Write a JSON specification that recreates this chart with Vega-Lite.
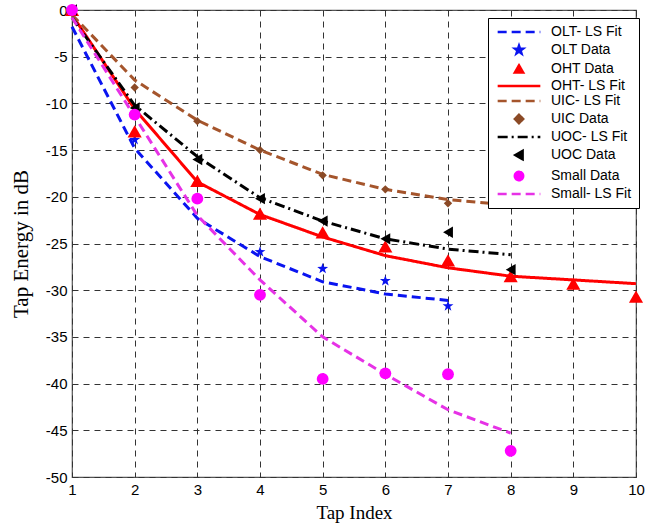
{
  "$schema": "https://vega.github.io/schema/vega-lite/v6.json",
  "autosize": {"type": "none"},
  "width": 564,
  "height": 467,
  "padding": {"left": 72, "top": 10, "right": 24, "bottom": 52},
  "background": "white",
  "config": {
    "view": {"stroke": "#555", "strokeWidth": 1.2},
    "axis": {
      "domain": false,
      "ticks": false,
      "grid": true,
      "gridColor": "#333",
      "gridDash": [6, 5],
      "gridOpacity": 1,
      "gridWidth": 1,
      "labelFont": "Liberation Sans",
      "labelFontSize": 15,
      "labelColor": "black",
      "titleFont": "Liberation Serif",
      "titleFontSize": 19,
      "titleFontWeight": "normal",
      "titleColor": "black"
    },
    "legend": {
      "orient": "none",
      "legendX": 416,
      "legendY": 8,
      "strokeColor": "black",
      "fillColor": "white",
      "padding": 7,
      "rowPadding": 1,
      "labelFont": "Liberation Sans",
      "labelFontSize": 14,
      "labelColor": "black",
      "symbolSize": 70,
      "symbolOffset": 17,
      "labelOffset": 25,
      "symbolStrokeWidth": 2.5,
      "symbolOpacity": 1
    }
  },
  "data": {
    "values": [
      {"series": "OLT- LS Fit", "tap": 1, "energy": -1.8},
      {"series": "OLT- LS Fit", "tap": 2, "energy": -14.8},
      {"series": "OLT- LS Fit", "tap": 3, "energy": -22.3},
      {"series": "OLT- LS Fit", "tap": 4, "energy": -26.4},
      {"series": "OLT- LS Fit", "tap": 5, "energy": -29.1},
      {"series": "OLT- LS Fit", "tap": 6, "energy": -30.4},
      {"series": "OLT- LS Fit", "tap": 7, "energy": -31.1},
      {"series": "OHT- LS Fit", "tap": 1, "energy": -0.5},
      {"series": "OHT- LS Fit", "tap": 2, "energy": -10.6},
      {"series": "OHT- LS Fit", "tap": 3, "energy": -18.4},
      {"series": "OHT- LS Fit", "tap": 4, "energy": -21.9},
      {"series": "OHT- LS Fit", "tap": 5, "energy": -24.3},
      {"series": "OHT- LS Fit", "tap": 6, "energy": -26.3},
      {"series": "OHT- LS Fit", "tap": 7, "energy": -27.6},
      {"series": "OHT- LS Fit", "tap": 8, "energy": -28.5},
      {"series": "OHT- LS Fit", "tap": 9, "energy": -28.9},
      {"series": "OHT- LS Fit", "tap": 10, "energy": -29.3},
      {"series": "UIC- LS Fit", "tap": 1, "energy": -0.5},
      {"series": "UIC- LS Fit", "tap": 2, "energy": -7.5},
      {"series": "UIC- LS Fit", "tap": 3, "energy": -11.8},
      {"series": "UIC- LS Fit", "tap": 4, "energy": -15},
      {"series": "UIC- LS Fit", "tap": 5, "energy": -17.6},
      {"series": "UIC- LS Fit", "tap": 6, "energy": -19.2},
      {"series": "UIC- LS Fit", "tap": 7, "energy": -20.3},
      {"series": "UIC- LS Fit", "tap": 8, "energy": -20.9},
      {"series": "UOC- LS Fit", "tap": 1, "energy": -0.8},
      {"series": "UOC- LS Fit", "tap": 2, "energy": -10.2},
      {"series": "UOC- LS Fit", "tap": 3, "energy": -15.7},
      {"series": "UOC- LS Fit", "tap": 4, "energy": -20.1},
      {"series": "UOC- LS Fit", "tap": 5, "energy": -22.6},
      {"series": "UOC- LS Fit", "tap": 6, "energy": -24.5},
      {"series": "UOC- LS Fit", "tap": 7, "energy": -25.6},
      {"series": "UOC- LS Fit", "tap": 8, "energy": -26.2},
      {"series": "Small- LS Fit", "tap": 1, "energy": -0.8},
      {"series": "Small- LS Fit", "tap": 2, "energy": -11.4},
      {"series": "Small- LS Fit", "tap": 3, "energy": -22},
      {"series": "Small- LS Fit", "tap": 4, "energy": -28.9},
      {"series": "Small- LS Fit", "tap": 5, "energy": -35},
      {"series": "Small- LS Fit", "tap": 6, "energy": -39},
      {"series": "Small- LS Fit", "tap": 7, "energy": -42.8},
      {"series": "Small- LS Fit", "tap": 8, "energy": -45.3},
      {"series": "OLT Data", "tap": 1, "energy": 0},
      {"series": "OLT Data", "tap": 2, "energy": -13.9},
      {"series": "OLT Data", "tap": 4, "energy": -25.9},
      {"series": "OLT Data", "tap": 5, "energy": -27.7},
      {"series": "OLT Data", "tap": 6, "energy": -29},
      {"series": "OLT Data", "tap": 7, "energy": -31.7},
      {"series": "OHT Data", "tap": 1, "energy": 0},
      {"series": "OHT Data", "tap": 2, "energy": -13},
      {"series": "OHT Data", "tap": 3, "energy": -18.3},
      {"series": "OHT Data", "tap": 4, "energy": -21.8},
      {"series": "OHT Data", "tap": 5, "energy": -23.8},
      {"series": "OHT Data", "tap": 6, "energy": -25.3},
      {"series": "OHT Data", "tap": 7, "energy": -26.8},
      {"series": "OHT Data", "tap": 8, "energy": -28.5},
      {"series": "OHT Data", "tap": 9, "energy": -29.3},
      {"series": "OHT Data", "tap": 10, "energy": -30.7},
      {"series": "UIC Data", "tap": 1, "energy": 0},
      {"series": "UIC Data", "tap": 2, "energy": -8.3},
      {"series": "UIC Data", "tap": 3, "energy": -11.9},
      {"series": "UIC Data", "tap": 4, "energy": -15},
      {"series": "UIC Data", "tap": 5, "energy": -17.7},
      {"series": "UIC Data", "tap": 6, "energy": -19.2},
      {"series": "UIC Data", "tap": 7, "energy": -20.7},
      {"series": "UIC Data", "tap": 8, "energy": -20.8},
      {"series": "UOC Data", "tap": 1, "energy": 0},
      {"series": "UOC Data", "tap": 2, "energy": -10.5},
      {"series": "UOC Data", "tap": 3, "energy": -16},
      {"series": "UOC Data", "tap": 4, "energy": -20.2},
      {"series": "UOC Data", "tap": 5, "energy": -22.6},
      {"series": "UOC Data", "tap": 6, "energy": -24.5},
      {"series": "UOC Data", "tap": 7, "energy": -23.8},
      {"series": "UOC Data", "tap": 8, "energy": -27.8},
      {"series": "Small Data", "tap": 1, "energy": 0},
      {"series": "Small Data", "tap": 2, "energy": -11.2},
      {"series": "Small Data", "tap": 3, "energy": -20.2},
      {"series": "Small Data", "tap": 4, "energy": -30.5},
      {"series": "Small Data", "tap": 5, "energy": -39.5},
      {"series": "Small Data", "tap": 6, "energy": -38.9},
      {"series": "Small Data", "tap": 7, "energy": -39},
      {"series": "Small Data", "tap": 8, "energy": -47.2}
    ]
  },
  "encoding": {
    "x": {
      "field": "tap", "type": "quantitative", "title": "Tap Index",
      "scale": {"domain": [1, 10], "nice": false, "zero": false},
      "axis": {"values": [1, 2, 3, 4, 5, 6, 7, 8, 9, 10], "labelPadding": 5, "titlePadding": 6, "labelFlush": false}
    },
    "y": {
      "field": "energy", "type": "quantitative", "title": "Tap Energy in dB",
      "scale": {"domain": [-50, 0], "nice": false, "zero": false},
      "axis": {"values": [0, -5, -10, -15, -20, -25, -30, -35, -40, -45, -50], "labelExpr": "toString(datum.value)", "labelPadding": 5, "titlePadding": 14, "titleFontSize": 21, "labelFlush": false}
    },
    "color": {
      "field": "series", "type": "nominal",
      "scale": {
        "domain": ["OLT- LS Fit", "OLT Data", "OHT Data", "OHT- LS Fit", "UIC- LS Fit", "UIC Data", "UOC- LS Fit", "UOC Data", "Small Data", "Small- LS Fit"],
        "range": ["#0a14f0", "#0a14f0", "#ff0000", "#ff0000", "#a5552c", "#8b4a26", "#000000", "#000000", "#ff00ff", "#e632e6"]
      },
      "legend": {"title": null}
    }
  },
  "layer": [
    {
      "transform": [{"filter": "indexof(datum.series,'Fit')>=0"}],
      "mark": {"type": "line", "strokeWidth": 3, "interpolate": "linear"},
      "encoding": {
        "strokeDash": {
          "field": "series", "type": "nominal",
          "scale": {
            "domain": ["OLT- LS Fit", "OLT Data", "OHT Data", "OHT- LS Fit", "UIC- LS Fit", "UIC Data", "UOC- LS Fit", "UOC Data", "Small Data", "Small- LS Fit"],
            "range": [[9, 5], [1, 0], [1, 0], [1, 0], [9, 5], [1, 0], [10, 4, 2, 4], [1, 0], [1, 0], [9, 5]]
          },
          "legend": {"title": null}
        }
      }
    },
    {
      "transform": [{"filter": "indexof(datum.series,'Data')>=0"}],
      "mark": {"type": "point", "filled": true, "opacity": 1},
      "encoding": {
        "shape": {
          "field": "series", "type": "nominal",
          "scale": {
            "domain": ["OLT- LS Fit", "OLT Data", "OHT Data", "OHT- LS Fit", "UIC- LS Fit", "UIC Data", "UOC- LS Fit", "UOC Data", "Small Data", "Small- LS Fit"],
            "range": ["M-5.1,0H5.1", "M0,-1L0.235,-0.324L0.951,-0.309L0.38,0.124L0.588,0.809L0,0.4L-0.588,0.809L-0.38,0.124L-0.951,-0.309L-0.235,-0.324Z", "triangle-up", "M-5.1,0H5.1", "M-5.1,0H5.1", "diamond", "M-5.1,0H5.1", "triangle-left", "circle", "M-5.1,0H5.1"]
          },
          "legend": {"title": null}
        },
        "size": {
          "field": "series", "type": "nominal",
          "scale": {
            "type": "ordinal",
            "domain": ["OLT Data", "OHT Data", "UIC Data", "UOC Data", "Small Data"],
            "range": [130, 200, 70, 130, 140]
          },
          "legend": null
        }
      }
    }
  ]
}
